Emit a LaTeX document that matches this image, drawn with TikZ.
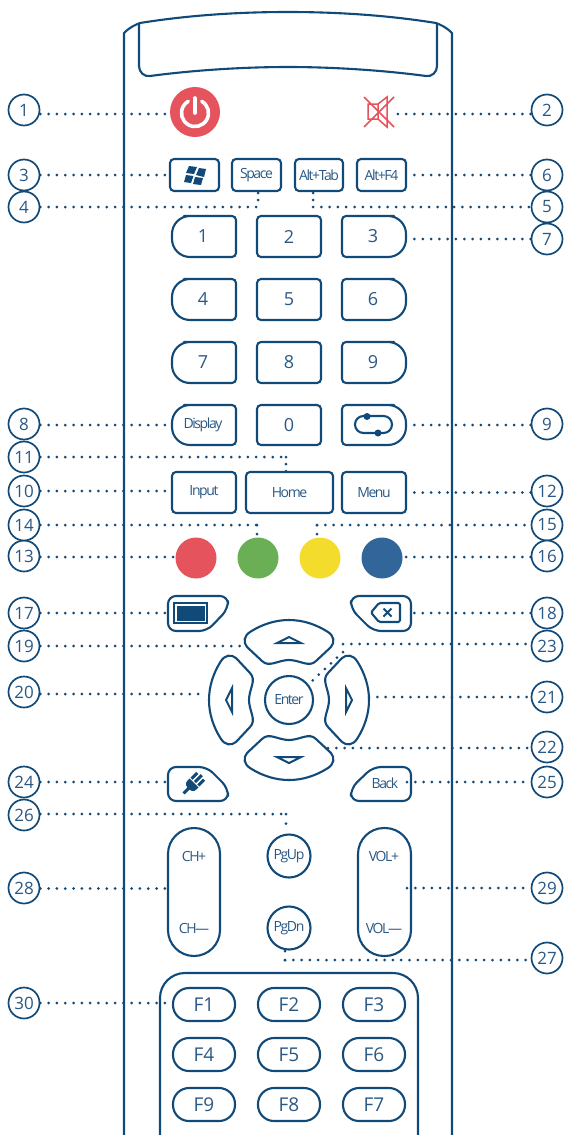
\documentclass[tikz,border=0pt]{standalone}
\usepackage{fontspec}
\setmainfont{Open Sans}
\newfontfamily\tight[LetterSpace=-10]{Open Sans}
\definecolor{navy}{HTML}{114A78}
\definecolor{txt}{HTML}{2A5885}
\definecolor{rd}{HTML}{E5535D}
\definecolor{gn}{HTML}{6AAE55}
\definecolor{yl}{HTML}{F3DC2B}
\definecolor{bl}{HTML}{32659A}
\tikzset{
 ln/.style={draw=navy,line width=2.1pt,line join=round},
 numc/.style={circle,draw=navy,line width=1.7pt,fill=white,minimum size=31pt,inner sep=0pt,text=txt,font=\fontsize{17}{17}\selectfont},
 leader/.style={draw=navy,line width=3pt,line cap=round,dash pattern=on 0pt off 8.3pt},
 stub/.style={leader,dash pattern=on 0pt off #1},
 keybox/.style={ln,rectangle,rounded corners=4pt,inner sep=0pt,text=txt},
 small/.style={font=\tight\fontsize{14}{14}\selectfont,text=txt,inner sep=0pt},
 big/.style={font=\fontsize{18}{18}\selectfont,text=txt,inner sep=0pt},
 fkey/.style={ln,rectangle,rounded corners=16pt,minimum width=62pt,minimum height=33pt,inner sep=0pt,text=txt,font=\fontsize{19}{19}\selectfont},
 dot/.style={circle,inner sep=0pt,minimum size=41pt},
}
\newcommand{\Lkey}[4]{\draw[ln] (#1+30,#2) [rounded corners=4pt] -- (#3,#2) -- (#3,#4) -- (#1+30,#4) [rounded corners=18pt] -- (#1,#4) -- (#1,#2) -- cycle;}
\newcommand{\Rkey}[4]{\draw[ln] (#3-30,#2) [rounded corners=4pt] -- (#1,#2) -- (#1,#4) -- (#3-30,#4) [rounded corners=18pt] -- (#3,#4) -- (#3,#2) -- cycle;}
\begin{document}
\begin{tikzpicture}[x=1pt,y=-1pt]
\useasboundingbox (0,0) rectangle (564,1135);
% body
\draw[ln] (124,1135) -- (124,33) .. controls (130,27) and (135,25) .. (140,23) .. controls (190,15) and (240,12) .. (288,12) .. controls (336,12) and (386,15) .. (436,23) .. controls (441,25) and (446,27) .. (452,33) -- (452,1135);
\draw[ln] (139,23) -- (139,66) .. controls (139,72) and (144,77) .. (150,76) .. controls (195,70) and (245,67) .. (288,67) .. controls (331,67) and (381,70) .. (426,76) .. controls (432,77) and (437,72) .. (437,66) -- (437,23);
\draw[ln,rounded corners=25pt] (160,1135) -- (160,973) -- (418,973) -- (418,1135);
% number labels
\foreach \n/\x/\y in {1/24/110,2/547/110,3/24/175,4/24/207,5/547/207,6/547/175,7/547/239,8/24/424,9/547/424,10/24/491,11/24/457,12/547/491,13/24/556,14/24/525,15/547/525,16/547/556,17/24/613,18/547/613,19/24/646,20/24/692,21/547/697,22/547/747,23/547/646,24/24/782,25/547/782,26/24/815,27/547/958,28/24/888,29/547/888,30/24/1003}
  \node[numc] (n\n) at (\x,\y) {\n};
% power, mute
\node[circle,fill=rd,minimum width=48pt,minimum height=50pt,inner sep=0pt] (power) at (195,112) {};
\draw[white,line width=3.6pt,line cap=round] (195,113) ++(300:13.5) arc[start angle=300,end angle=600,radius=13.5];
\draw[white,line width=3.6pt,line cap=round] (195,98) -- (195,113);
\coordinate (mute) at (379,112);
\draw[rd,line width=1.5pt] (368,104) rectangle (378,119) (378,104) -- (387,97) -- (387,127) -- (378,119) (364,97) -- (394,127) (394,97) -- (364,127);
% top small keys
\node[keybox,minimum width=49pt,minimum height=32pt] (win) at (194.5,175) {};
\fill[navy] (189,166) -- (197,167) -- (194,174) -- (186,173) -- cycle
 (199,168) -- (206,169) -- (204,177) -- (196,175) -- cycle
 (186,175) -- (193.5,176) -- (191,183) -- (184,182) -- cycle
 (195,177) -- (203,178) -- (201,185) -- (193,184) -- cycle;
\node[keybox,small,minimum width=49pt,minimum height=32pt] (space) at (256.5,175) {Space};
\node[keybox,small,minimum width=48pt,minimum height=32pt] (alttab) at (319,175) {Alt+Tab};
\node[keybox,small,minimum width=49pt,minimum height=32pt] (altf4) at (381.5,175) {Alt+F4};
% number keys
\foreach \t/\txt/\u/\v/\w in {216/1/2/3/236.5,279/4/5/6/299.5,342/7/8/9/362.5}{
  \pgfmathsetmacro{\bb}{\t+41}
  \Lkey{172}{\t}{236}{\bb}
  \Rkey{342}{\t}{406}{\bb}
  \node[big] (k\txt) at (203,\w) {\txt};
  \node[keybox,big,minimum width=64pt,minimum height=41pt] (k\u) at (289,\w) {\u};
  \node[big] (k\v) at (373,\w) {\v};
}
\Lkey{172}{405}{236}{445}
\node[small] (display) at (203,425) {Display};
\node[keybox,big,minimum width=64pt,minimum height=40pt] (k0) at (289,425) {0};
\Rkey{342}{405}{406}{445}
\draw[ln,rounded corners=8.5pt] (355,416) rectangle (392,433);
\node[circle,fill=navy,minimum size=7pt,inner sep=0pt] (loopa) at (367,416.5) {};
\node[circle,fill=navy,minimum size=7pt,inner sep=0pt] (loopb) at (378,433) {};
\coordinate (loop) at (374,425);
% input row
\node[keybox,small,minimum width=64pt,minimum height=41pt] (input) at (204,492.5) {Input};
\node[keybox,small,minimum width=87pt,minimum height=41pt] (home) at (289.5,492.5) {Home};
\node[keybox,small,minimum width=64pt,minimum height=41pt] (menu) at (374,492.5) {Menu};
% colour keys
\node[dot,fill=rd] (cr) at (196,558) {};
\node[dot,fill=gn] (cg) at (258,558) {};
\node[dot,fill=yl] (cy) at (320,558) {};
\node[dot,fill=bl] (cb) at (382,558) {};
% slanted keys
\draw[ln,rounded corners=8pt] (168,596) -- (228,596) -- (228,609) -- (207,631) -- (168,631) -- cycle;
\draw[navy,line width=1.2pt] (174,603) rectangle (207,623);
\fill[navy] (176.5,605.5) rectangle (204.5,620.5);
\draw[ln,rounded corners=8pt] (411,596) -- (351,596) -- (351,609) -- (373,631) -- (411,631) -- cycle;
\draw[ln,rounded corners=1.5pt] (371,612.5) -- (379,603) -- (400,603) -- (400,622) -- (379,622) -- cycle;
\draw[navy,line width=2.1pt] (383.5,608.5) -- (391.5,616.5) (391.5,608.5) -- (383.5,616.5);
\draw[ln,rounded corners=8pt] (168,801) -- (228,801) -- (228,788) -- (207,767) -- (168,767) -- cycle;
\begin{scope}[shift={(193,784)},rotate=45,scale=0.78]
 \fill[navy] (-17,-2) rectangle (-6,2);
 \fill[navy] (-9,0) .. controls (-9,-4) and (-6,-8) .. (-3,-8) -- (2,-8) -- (2,8) -- (-3,8) .. controls (-6,8) and (-9,4) .. (-9,0) -- cycle;
 \fill[navy] (3.5,-8) rectangle (14,-4.2) (3.5,-1.9) rectangle (16,1.9) (3.5,4.2) rectangle (14,8);
\end{scope}
\draw[ln,rounded corners=8pt] (411,801) -- (351,801) -- (351,788) -- (373,767) -- (411,767) -- cycle;
\node[small] (back) at (385,783) {Back};
% d-pad
\foreach \a in {0,90,180,270}{
 \begin{scope}[rotate around={\a:(289,700)}]
  \draw[ln] (250,632) .. controls (275,616) and (303,616) .. (328,632) .. controls (334,636) and (335,642) .. (331,647) -- (316,661) .. controls (309,668) and (300,660) .. (289,660) .. controls (278,660) and (269,668) .. (262,661) -- (247,647) .. controls (243,642) and (244,636) .. (250,632) -- cycle;
  \draw[navy,line width=2pt,line join=miter] (277,643) -- (301,643) -- (289,637) -- cycle;
 \end{scope}}
\node[circle,ln,minimum size=48pt,inner sep=0pt,text=txt,font=\tight\fontsize{14}{14}\selectfont] (enter) at (289,700) {Enter};
% rockers and page keys
\draw[ln,rounded corners=26pt] (168,828) rectangle (220,956);
\node[small] (chp) at (194,856) {CH+};
\node[small] (chm) at (194,928) {CH—};
\draw[ln,rounded corners=26pt] (358,828) rectangle (411,956);
\node[small] (volp) at (384,856) {VOL+};
\node[small] (volm) at (384,928) {VOL—};
\node[circle,ln,minimum size=43pt,inner sep=0pt,text=txt,font=\tight\fontsize{14}{14}\selectfont] (pgup) at (289,856) {PgUp};
\node[circle,ln,minimum size=43pt,inner sep=0pt,text=txt,font=\tight\fontsize{14}{14}\selectfont] (pgdn) at (289,928) {PgDn};
% function keys
\foreach \a/\b/\c/\y in {F1/F2/F3/1004.5,F4/F5/F6/1054.5,F9/F8/F7/1104.5}{
 \node[fkey] (\a) at (204,\y) {\a};
 \node[fkey] (\b) at (289,\y) {\b};
 \node[fkey] (\c) at (374,\y) {\c};
}
% leaders
\coordinate (e1) at (165,114); \draw[leader] (n1.east |- e1) -- (e1);
\coordinate (e2) at (390,114); \draw[leader] (n2.west |- e2) -- (e2);
\coordinate (e3) at (165,175); \draw[leader] (n3.east) -- (e3);
\coordinate (e6) at (410,175); \draw[leader] (n6.west) -- (e6);
\coordinate (j4) at (258,207); \coordinate (e4) at (258,193); \draw[leader] (n4.east) -- (j4); \draw[stub=7pt] (e4) -- (j4);
\coordinate (j5) at (313,207); \coordinate (e5) at (313,193); \draw[leader] (j5) -- (n5.west); \draw[stub=7pt] (e5) -- (j5);
\coordinate (e7) at (408,239); \draw[leader] (n7.west) -- (e7);
\coordinate (e8) at (165,425); \draw[leader] (n8.east |- e8) -- (e8);
\coordinate (e9) at (408,425); \draw[leader] (n9.west |- e9) -- (e9);
\coordinate (j11) at (286,457); \coordinate (e11) at (286,471); \draw[leader] (n11.east) -- (j11); \draw[stub=7pt] (j11) -- (e11);
\coordinate (e10) at (165,491); \draw[leader] (n10.east) -- (e10);
\coordinate (e12) at (407,492.5); \draw[leader] (n12.west |- e12) -- (e12);
\coordinate (e13) at (175,557); \draw[leader] (n13.east |- e13) -- (e13);
\coordinate (e16) at (402,557); \draw[leader] (n16.west |- e16) -- (e16);
\coordinate (j14) at (257,525); \coordinate (e14) at (257,534); \draw[leader] (n14.east) -- (j14); \draw[stub=9pt] (j14) -- (e14);
\coordinate (j15) at (317,525); \coordinate (e15) at (317,534); \draw[leader] (j15) -- (n15.west); \draw[stub=9pt] (j15) -- (e15);
\coordinate (e17) at (165,613); \draw[leader] (n17.east) -- (e17);
\coordinate (e18) at (407,613); \draw[leader] (n18.west) -- (e18);
\coordinate (e19) at (245,646); \draw[leader] (n19.east) -- (e19);
\coordinate (j23) at (343,644); \draw[leader] (j23) -- (n23.west |- j23);
\coordinate (k23) at (343,652); \coordinate (e23) at (311,682); \draw[leader] (k23) -- (e23);
\coordinate (e20) at (203,694); \draw[leader] (n20.east |- e20) -- (e20);
\coordinate (e21) at (369,697); \draw[leader] (e21) -- (n21.west);
\coordinate (e22) at (328,748); \draw[leader] (e22) -- (n22.west |- e22);
\coordinate (e24) at (165,782); \draw[leader] (n24.east) -- (e24);
\coordinate (e25) at (407,782); \draw[leader] (e25) -- (n25.west);
\coordinate (j26) at (286,814); \coordinate (e26) at (286,833); \draw[leader] (n26.east |- j26) -- (j26); \draw[stub=9.5pt] (j26) -- (e26);
\coordinate (j27) at (285,960); \coordinate (e27) at (285,951); \draw[leader] (j27) -- (n27.west |- j27); \draw[stub=9pt] (e27) -- (j27);
\coordinate (e28) at (165,888.5); \draw[leader] (n28.east |- e28) -- (e28);
\coordinate (e29) at (407,888); \draw[leader] (e29) -- (n29.west);
\coordinate (e30) at (173,1003); \draw[leader] (n30.east) -- (e30);
\end{tikzpicture}
\end{document}
